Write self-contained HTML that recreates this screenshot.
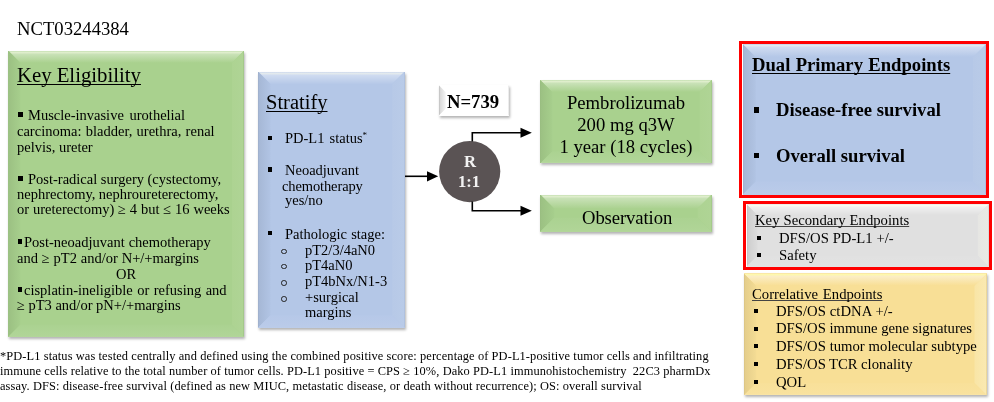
<!DOCTYPE html>
<html><head><meta charset="utf-8"><style>
html,body{margin:0;padding:0;background:#fff;}
body{width:994px;height:402px;overflow:hidden;position:relative;font-family:"Liberation Serif",serif;}
.bx{position:absolute;box-sizing:border-box;}
.bv{position:absolute;left:0;top:0;width:100%;height:100%;}
.fr{position:absolute;box-sizing:border-box;}
.sq{position:absolute;background:#000;}
.ci{position:absolute;border:1.1px solid #222;border-radius:50%;}
.ov{position:absolute;left:0;top:0;}
.tx{position:absolute;white-space:pre;will-change:transform;}
.tx{text-decoration-skip-ink:none;text-underline-offset:1.6px;text-decoration-color:#222;}
</style></head><body>
<div class="bx" style="left:8.30px;top:50.80px;width:235.60px;height:285.90px;background:#a9d18e;box-shadow:1px 2px 2.5px rgba(0,0,0,0.30);"><div class="bv" style="background:linear-gradient(#c2deaf,#e1efce 1.3px,#c8e1b6 3.5px,#a9d18e 12.0px);clip-path:polygon(0 0,235.60px 0,223.60px 12.00px,12.00px 12.00px)"></div><div class="bv" style="background:linear-gradient(90deg,#92b57b,#9cc183 1.2px,#a6ce8c 12.0px);clip-path:polygon(0 0,12.00px 12.00px,12.00px 273.90px,0 285.90px)"></div><div class="bv" style="background:linear-gradient(270deg,#9abe81,#afd495 1.2px,#add392 12.0px);clip-path:polygon(235.60px 0,235.60px 285.90px,223.60px 273.90px,223.60px 12.00px)"></div><div class="bv" style="background:linear-gradient(0deg,#b7d8a0,#b0d597 1.5px,#abd291 12.0px);clip-path:polygon(0 285.90px,235.60px 285.90px,223.60px 273.90px,12.00px 273.90px)"></div></div><div class="bx" style="left:258.00px;top:71.50px;width:146.70px;height:256.20px;background:#b4c7e7;box-shadow:1px 2px 2.5px rgba(0,0,0,0.30);"><div class="bv" style="background:linear-gradient(#cad7ee,#e5ebed 1.3px,#cfdbf0 3.5px,#b4c7e7 12.5px);clip-path:polygon(0 0,146.70px 0,134.20px 12.50px,12.50px 12.50px)"></div><div class="bv" style="background:linear-gradient(90deg,#9cacc8,#a6b8d6 1.2px,#b1c4e4 12.5px);clip-path:polygon(0 0,12.50px 12.50px,12.50px 243.70px,0 256.20px)"></div><div class="bv" style="background:linear-gradient(270deg,#a4b5d2,#b9cbe8 1.2px,#b7c9e7 12.5px);clip-path:polygon(146.70px 0,146.70px 256.20px,134.20px 243.70px,134.20px 12.50px)"></div><div class="bv" style="background:linear-gradient(0deg,#c0d0eb,#bacbe9 1.5px,#b6c8e8 12.5px);clip-path:polygon(0 256.20px,146.70px 256.20px,134.20px 243.70px,12.50px 243.70px)"></div></div><div class="bx" style="left:438.80px;top:85.20px;width:69.90px;height:30.50px;background:#ffffff;box-shadow:1px 2px 2.5px rgba(0,0,0,0.30);"><div class="bv" style="background:linear-gradient(#ffffff,#ffffff 1.3px,#ffffff 3.5px,#ffffff 7.0px);clip-path:polygon(0 0,69.90px 0,62.90px 7.00px,7.00px 7.00px)"></div><div class="bv" style="background:linear-gradient(90deg,#bababa,#d9d9d9 1.2px,#f7f7f7 7.0px);clip-path:polygon(0 0,7.00px 7.00px,7.00px 23.50px,0 30.50px)"></div><div class="bv" style="background:linear-gradient(270deg,#d1d1d1,#ffffff 1.2px,#ffffff 7.0px);clip-path:polygon(69.90px 0,69.90px 30.50px,62.90px 23.50px,62.90px 7.00px)"></div><div class="bv" style="background:linear-gradient(0deg,#ffffff,#ffffff 1.5px,#ffffff 7.0px);clip-path:polygon(0 30.50px,69.90px 30.50px,62.90px 23.50px,7.00px 23.50px)"></div></div><div class="bx" style="left:540.20px;top:80.00px;width:171.50px;height:83.40px;background:#a9d18e;box-shadow:1px 2px 2.5px rgba(0,0,0,0.30);"><div class="bv" style="background:linear-gradient(#c2deaf,#e1efce 1.3px,#c8e1b6 3.5px,#a9d18e 12.0px);clip-path:polygon(0 0,171.50px 0,159.50px 12.00px,12.00px 12.00px)"></div><div class="bv" style="background:linear-gradient(90deg,#92b57b,#9cc183 1.2px,#a6ce8c 12.0px);clip-path:polygon(0 0,12.00px 12.00px,12.00px 71.40px,0 83.40px)"></div><div class="bv" style="background:linear-gradient(270deg,#9abe81,#afd495 1.2px,#add392 12.0px);clip-path:polygon(171.50px 0,171.50px 83.40px,159.50px 71.40px,159.50px 12.00px)"></div><div class="bv" style="background:linear-gradient(0deg,#b7d8a0,#b0d597 1.5px,#abd291 12.0px);clip-path:polygon(0 83.40px,171.50px 83.40px,159.50px 71.40px,12.00px 71.40px)"></div></div><div class="bx" style="left:540.20px;top:194.50px;width:171.50px;height:37.20px;background:#a9d18e;box-shadow:1px 2px 2.5px rgba(0,0,0,0.30);"><div class="bv" style="background:linear-gradient(#c2deaf,#e1efce 1.3px,#c8e1b6 3.5px,#a9d18e 14.0px);clip-path:polygon(0 0,171.50px 0,157.50px 14.00px,14.00px 14.00px)"></div><div class="bv" style="background:linear-gradient(90deg,#92b57b,#9cc183 1.2px,#a6ce8c 14.0px);clip-path:polygon(0 0,14.00px 14.00px,14.00px 23.20px,0 37.20px)"></div><div class="bv" style="background:linear-gradient(270deg,#9abe81,#afd495 1.2px,#add392 14.0px);clip-path:polygon(171.50px 0,171.50px 37.20px,157.50px 23.20px,157.50px 14.00px)"></div><div class="bv" style="background:linear-gradient(0deg,#b7d8a0,#b0d597 1.5px,#abd291 14.0px);clip-path:polygon(0 37.20px,171.50px 37.20px,157.50px 23.20px,14.00px 23.20px)"></div></div>
<svg class="ov" width="994" height="402" viewBox="0 0 994 402">
<circle cx="469.7" cy="171.6" r="30.6" fill="#5a5354"/>
<line x1="405" y1="176.3" x2="428" y2="176.3" stroke="#000" stroke-width="1.6"/>
<polygon points="427,171.2 438.2,176.3 427,181.4" fill="#000"/>
<polyline points="472.3,141.5 472.3,132.8 521,132.8" fill="none" stroke="#000" stroke-width="1.6"/>
<polygon points="520.5,127.8 531.8,132.8 520.5,137.8" fill="#000"/>
<polyline points="472.3,201.5 472.3,210.8 521,210.8" fill="none" stroke="#000" stroke-width="1.6"/>
<polygon points="520.5,205.8 531.8,210.8 520.5,215.8" fill="#000"/>
</svg>
<div class="bx" style="left:742.80px;top:44.20px;width:243.20px;height:150.40px;background:#b4c7e7;"><div class="bv" style="background:linear-gradient(#cad7ee,#e5ebed 1.3px,#cfdbf0 3.5px,#b4c7e7 13.0px);clip-path:polygon(0 0,243.20px 0,230.20px 13.00px,13.00px 13.00px)"></div><div class="bv" style="background:linear-gradient(90deg,#9cacc8,#a6b8d6 1.2px,#b1c4e4 13.0px);clip-path:polygon(0 0,13.00px 13.00px,13.00px 137.40px,0 150.40px)"></div><div class="bv" style="background:linear-gradient(270deg,#a4b5d2,#b9cbe8 1.2px,#b7c9e7 13.0px);clip-path:polygon(243.20px 0,243.20px 150.40px,230.20px 137.40px,230.20px 13.00px)"></div><div class="bv" style="background:linear-gradient(0deg,#c0d0eb,#bacbe9 1.5px,#b6c8e8 13.0px);clip-path:polygon(0 150.40px,243.20px 150.40px,230.20px 137.40px,13.00px 137.40px)"></div></div><div class="bx" style="left:746.50px;top:204.20px;width:242.30px;height:62.60px;background:#e0e0e0;"><div class="bv" style="background:linear-gradient(#ededed,#fcfcee 1.3px,#efefef 3.5px,#e0e0e0 11.0px);clip-path:polygon(0 0,242.30px 0,231.30px 11.00px,11.00px 11.00px)"></div><div class="bv" style="background:linear-gradient(90deg,#c2c2c2,#cfcfcf 1.2px,#dddddd 11.0px);clip-path:polygon(0 0,11.00px 11.00px,11.00px 51.60px,0 62.60px)"></div><div class="bv" style="background:linear-gradient(270deg,#cccccc,#e9e9e5 1.2px,#e6e6e3 11.0px);clip-path:polygon(242.30px 0,242.30px 62.60px,231.30px 51.60px,231.30px 11.00px)"></div><div class="bv" style="background:linear-gradient(0deg,#e5e5e5,#e2e2e2 1.5px,#e1e1e1 11.0px);clip-path:polygon(0 62.60px,242.30px 62.60px,231.30px 51.60px,11.00px 51.60px)"></div></div><div class="bx" style="left:743.80px;top:273.40px;width:243.20px;height:122.00px;background:#f8df96;box-shadow:1px 2px 2.5px rgba(0,0,0,0.30);"><div class="bv" style="background:linear-gradient(#fbebbc,#fef9ab 1.3px,#fbedc4 3.5px,#f8df96 12.5px);clip-path:polygon(0 0,243.20px 0,230.70px 12.50px,12.50px 12.50px)"></div><div class="bv" style="background:linear-gradient(90deg,#d7c182,#e5ce8b 1.2px,#f4dc94 12.5px);clip-path:polygon(0 0,12.50px 12.50px,12.50px 109.50px,0 122.00px)"></div><div class="bv" style="background:linear-gradient(270deg,#e2cb88,#fae9b1 1.2px,#f9e5a6 12.5px);clip-path:polygon(243.20px 0,243.20px 122.00px,230.70px 109.50px,230.70px 12.50px)"></div><div class="bv" style="background:linear-gradient(0deg,#f9e4a7,#f9e29e 1.5px,#f8e099 12.5px);clip-path:polygon(0 122.00px,243.20px 122.00px,230.70px 109.50px,12.50px 109.50px)"></div></div>
<div class="fr" style="left:739.00px;top:41.00px;width:250.00px;height:156.50px;border:3px solid #ff0000"></div><div class="fr" style="left:743.00px;top:201.00px;width:248.70px;height:69.00px;border:3px solid #ff0000"></div>
<div class="sq" style="left:18.30px;top:112.20px;width:4.40px;height:4.50px"></div><div class="sq" style="left:18.30px;top:176.00px;width:4.40px;height:4.50px"></div><div class="sq" style="left:18.30px;top:239.20px;width:4.20px;height:4.50px"></div><div class="sq" style="left:18.30px;top:287.20px;width:4.20px;height:4.50px"></div><div class="sq" style="left:268.20px;top:135.50px;width:4.20px;height:4.40px"></div><div class="sq" style="left:268.20px;top:167.40px;width:4.20px;height:4.40px"></div><div class="sq" style="left:268.20px;top:230.80px;width:4.20px;height:4.40px"></div><div class="ci" style="left:281.20px;top:248.80px;width:3.60px;height:3.60px"></div><div class="ci" style="left:281.20px;top:263.90px;width:3.60px;height:3.60px"></div><div class="ci" style="left:281.20px;top:280.30px;width:3.60px;height:3.60px"></div><div class="ci" style="left:281.20px;top:296.20px;width:3.60px;height:3.60px"></div><div class="sq" style="left:753.60px;top:107.40px;width:5.40px;height:5.40px"></div><div class="sq" style="left:753.60px;top:153.10px;width:5.40px;height:5.40px"></div><div class="sq" style="left:756.80px;top:235.80px;width:4.00px;height:4.00px"></div><div class="sq" style="left:756.80px;top:252.70px;width:4.00px;height:4.00px"></div><div class="sq" style="left:753.80px;top:309.10px;width:4.50px;height:4.00px"></div><div class="sq" style="left:753.80px;top:326.50px;width:4.50px;height:4.00px"></div><div class="sq" style="left:753.80px;top:344.20px;width:4.50px;height:4.00px"></div><div class="sq" style="left:753.80px;top:361.60px;width:4.50px;height:4.00px"></div><div class="sq" style="left:753.80px;top:379.60px;width:4.50px;height:4.00px"></div>
<div class="tx" id="t0" style="top:19.76px;font-size:18.67px;line-height:18.67px;color:#000;left:17.00px;"><span>NCT03244384</span></div><div class="tx" id="t1" style="top:64.98px;font-size:20.8px;line-height:20.8px;color:#000;text-decoration:underline;text-decoration-thickness:1.2px;word-spacing:-0.203px;left:16.80px;"><span>Key Eligibility</span></div><div class="tx" id="t2" style="top:108.06px;font-size:14.5px;line-height:14.5px;color:#000;word-spacing:2.062px;left:27.60px;"><span>Muscle-invasive urothelial</span></div><div class="tx" id="t3" style="top:123.76px;font-size:14.5px;line-height:14.5px;color:#000;word-spacing:0.708px;left:17.20px;"><span>carcinoma: bladder, urethra, renal</span></div><div class="tx" id="t4" style="top:139.86px;font-size:14.5px;line-height:14.5px;color:#000;left:17.20px;"><span>pelvis, ureter</span></div><div class="tx" id="t5" style="top:171.86px;font-size:14.5px;line-height:14.5px;color:#000;word-spacing:-0.094px;left:27.80px;"><span>Post-radical surgery (cystectomy,</span></div><div class="tx" id="t6" style="top:187.06px;font-size:14.5px;line-height:14.5px;color:#000;word-spacing:-0.141px;left:17.30px;"><span>nephrectomy, nephroureterectomy,</span></div><div class="tx" id="t7" style="top:202.36px;font-size:14.5px;line-height:14.5px;color:#000;word-spacing:0.214px;left:17.30px;"><span>or ureterectomy) ≥ 4 but ≤ 16 weeks</span></div><div class="tx" id="t8" style="top:235.06px;font-size:14.5px;line-height:14.5px;color:#000;word-spacing:0.359px;left:23.70px;"><span>Post-neoadjuvant chemotherapy</span></div><div class="tx" id="t9" style="top:251.16px;font-size:14.5px;line-height:14.5px;color:#000;word-spacing:0.223px;left:17.10px;"><span>and ≥ pT2 and/or N+/+margins</span></div><div class="tx" id="t10" style="top:266.56px;font-size:14.5px;line-height:14.5px;color:#000;left:116.40px;"><span>OR</span></div><div class="tx" id="t11" style="top:283.06px;font-size:14.5px;line-height:14.5px;color:#000;word-spacing:0.823px;left:23.70px;"><span>cisplatin-ineligible or refusing and</span></div><div class="tx" id="t12" style="top:298.46px;font-size:14.5px;line-height:14.5px;color:#000;word-spacing:-0.068px;left:17.10px;"><span>≥ pT3 and/or pN+/+margins</span></div><div class="tx" id="t13" style="top:92.23px;font-size:20.5px;line-height:20.5px;color:#000;text-decoration:underline;text-decoration-thickness:1.2px;left:266.20px;"><span>Stratify</span></div><div class="tx" id="t14" style="top:131.26px;font-size:14.5px;line-height:14.5px;color:#000;word-spacing:1.469px;left:284.90px;"><span>PD-L1 status<span style="font-size:9px;position:relative;top:-5px">*</span></span></div><div class="tx" id="t15" style="top:163.16px;font-size:14.5px;line-height:14.5px;color:#000;left:284.90px;"><span>Neoadjuvant</span></div><div class="tx" id="t16" style="top:178.56px;font-size:14.5px;line-height:14.5px;color:#000;letter-spacing:-0.117px;left:281.70px;"><span>chemotherapy</span></div><div class="tx" id="t17" style="top:192.96px;font-size:14.5px;line-height:14.5px;color:#000;left:284.90px;"><span>yes/no</span></div><div class="tx" id="t18" style="top:226.56px;font-size:14.5px;line-height:14.5px;color:#000;word-spacing:0.531px;left:285.20px;"><span>Pathologic stage:</span></div><div class="tx" id="t19" style="top:242.96px;font-size:14.5px;line-height:14.5px;color:#000;left:304.60px;"><span>pT2/3/4aN0</span></div><div class="tx" id="t20" style="top:258.06px;font-size:14.5px;line-height:14.5px;color:#000;left:304.60px;"><span>pT4aN0</span></div><div class="tx" id="t21" style="top:274.46px;font-size:14.5px;line-height:14.5px;color:#000;left:304.60px;"><span>pT4bNx/N1-3</span></div><div class="tx" id="t22" style="top:290.36px;font-size:14.5px;line-height:14.5px;color:#000;left:304.60px;"><span>+surgical</span></div><div class="tx" id="t23" style="top:304.56px;font-size:14.5px;line-height:14.5px;color:#000;left:304.60px;"><span>margins</span></div><div class="tx" id="t24" style="top:92.66px;font-size:18.67px;line-height:18.67px;color:#000;font-weight:bold;left:447.10px;"><span>N=739</span></div><div class="tx" id="t25" style="top:154.34px;font-size:16.67px;line-height:16.67px;color:#f2f2f2;font-weight:bold;left:463.70px;"><span>R</span></div><div class="tx" id="t26" style="top:173.84px;font-size:16.67px;line-height:16.67px;color:#f2f2f2;font-weight:bold;left:458.20px;"><span>1:1</span></div><div class="tx" id="t27" style="top:93.56px;font-size:18.67px;line-height:18.67px;color:#000;left:426px;width:400px;text-align:center;"><span>Pembrolizumab</span></div><div class="tx" id="t28" style="top:116.26px;font-size:18.67px;line-height:18.67px;color:#000;left:426px;width:400px;text-align:center;"><span>200 mg q3W</span></div><div class="tx" id="t29" style="top:138.46px;font-size:18.67px;line-height:18.67px;color:#000;left:426px;width:400px;text-align:center;"><span>1 year (18 cycles)</span></div><div class="tx" id="t30" style="top:208.66px;font-size:18.67px;line-height:18.67px;color:#000;letter-spacing:-0.097px;left:581.60px;"><span>Observation</span></div><div class="tx" id="t31" style="top:56.36px;font-size:18.67px;line-height:18.67px;color:#000;font-weight:bold;text-decoration:underline;text-decoration-thickness:1.2px;text-underline-offset:2.2px;word-spacing:0.617px;left:752.30px;"><span>Dual Primary Endpoints</span></div><div class="tx" id="t32" style="top:101.26px;font-size:18.67px;line-height:18.67px;color:#000;font-weight:bold;left:776.00px;"><span>Disease-free survival</span></div><div class="tx" id="t33" style="top:146.96px;font-size:18.67px;line-height:18.67px;color:#000;font-weight:bold;left:776.00px;"><span>Overall survival</span></div><div class="tx" id="t34" style="top:213.49px;font-size:14.7px;line-height:14.7px;color:#000;text-decoration:underline;text-decoration-thickness:0.9px;text-underline-offset:0.9px;text-decoration-color:#444;word-spacing:0.406px;left:754.80px;"><span>Key Secondary Endpoints</span></div><div class="tx" id="t35" style="top:230.79px;font-size:14.7px;line-height:14.7px;color:#000;word-spacing:0.156px;left:779.00px;"><span>DFS/OS PD-L1 +/-</span></div><div class="tx" id="t36" style="top:247.69px;font-size:14.7px;line-height:14.7px;color:#000;left:779.00px;"><span>Safety</span></div><div class="tx" id="t37" style="top:287.09px;font-size:14.7px;line-height:14.7px;color:#000;text-decoration:underline;text-decoration-thickness:0.9px;text-underline-offset:0.9px;text-decoration-color:#444;word-spacing:1.094px;left:751.80px;"><span>Correlative Endpoints</span></div><div class="tx" id="t38" style="top:304.09px;font-size:14.7px;line-height:14.7px;color:#000;word-spacing:0.344px;left:775.70px;"><span>DFS/OS ctDNA +/-</span></div><div class="tx" id="t39" style="top:321.49px;font-size:14.7px;line-height:14.7px;color:#000;word-spacing:-0.047px;left:775.70px;"><span>DFS/OS immune gene signatures</span></div><div class="tx" id="t40" style="top:339.19px;font-size:14.7px;line-height:14.7px;color:#000;word-spacing:0.193px;left:775.70px;"><span>DFS/OS tumor molecular subtype</span></div><div class="tx" id="t41" style="top:356.59px;font-size:14.7px;line-height:14.7px;color:#000;word-spacing:-0.172px;left:775.70px;"><span>DFS/OS TCR clonality</span></div><div class="tx" id="t42" style="top:374.59px;font-size:14.7px;line-height:14.7px;color:#000;left:775.70px;"><span>QOL</span></div><div class="tx" id="t43" style="top:349.92px;font-size:12.4px;line-height:12.4px;color:#000;letter-spacing:0.103px;left:0.00px;"><span>*PD-L1 status was tested centrally and defined using the combined positive score: percentage of PD-L1-positive tumor cells and infiltrating</span></div><div class="tx" id="t44" style="top:364.92px;font-size:12.4px;line-height:12.4px;color:#000;letter-spacing:0.089px;left:0.30px;"><span>immune cells relative to the total number of tumor cells. PD-L1 positive = CPS ≥ 10%, Dako PD-L1 immunohistochemistry  22C3 pharmDx</span></div><div class="tx" id="t45" style="top:380.31px;font-size:12.4px;line-height:12.4px;color:#000;letter-spacing:0.100px;left:0.30px;"><span>assay. DFS: disease-free survival (defined as new MIUC, metastatic disease, or death without recurrence); OS: overall survival</span></div>
</body></html>
